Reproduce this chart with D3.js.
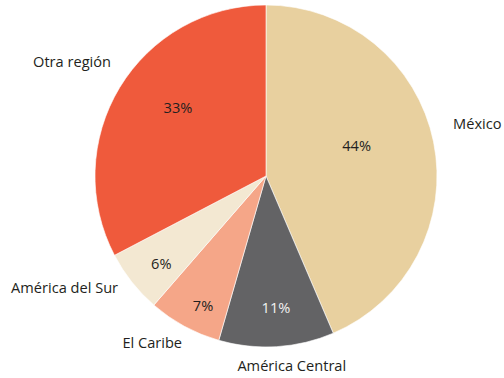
<!DOCTYPE html>
<html>
<head>
<meta charset="utf-8">
<script src="https://cdn.jsdelivr.net/npm/d3@7"></script>
<style>
  html, body { margin: 0; padding: 0; background: #fff; }
  svg { display: block; }
  text { font-family: "Open Sans", Lato, sans-serif; font-size: 14.6px; fill: #231f20; }
</style>
</head>
<body>
<svg id="chart" width="504" height="378"></svg>
<script>
// Share of respondents by region of origin (percent)
const regions = ["México", "América Central", "El Caribe", "América del Sur", "Otra región"];
const shares = [44, 11, 7, 6, 33];
const sliceColors = ["#e8d09f", "#636365", "#f5a688", "#f3e8d2", "#ef5a3c"];
const pctColors = ["#231f20", "#f2f2f2", "#231f20", "#231f20", "#231f20"];

// Label placement tweaks: [radius fraction, angle shift in degrees]
const pctPlacement = [[0.56, -7.3], [0.766, -0.8], [0.84, -2.5], [0.795, -1.3], [0.654, 6.9]];
const namePlacement = [[1.137, -4.2, "start"], [1.116, -4.2, "middle"], [1.088, -1.7, "end"], [1.082, 1.4, "end"], [1.129, 5.4, "end"]];

const width = 504, height = 378;
const cx = 266, cy = 176, R = 171;

const svg = d3.select("#chart");
const g = svg.append("g").attr("transform", `translate(${cx},${cy})`);

const pie = d3.pie().sort(null).value(d => d.value);
const arc = d3.arc().innerRadius(0).outerRadius(R);

const data = regions.map((name, i) => ({ name, value: shares[i], i }));
const arcs = pie(data);

g.selectAll("path.slice")
  .data(arcs)
  .join("path")
  .attr("class", "slice")
  .attr("d", arc)
  .attr("fill", d => sliceColors[d.data.i])
  .attr("stroke", "#ffffff")
  .attr("stroke-width", 0.6);

function polar(r, ang) {
  return [r * Math.sin(ang), -r * Math.cos(ang)];
}

g.selectAll("text.pct")
  .data(arcs)
  .join("text")
  .attr("class", "pct")
  .attr("text-anchor", "middle")
  .attr("dominant-baseline", "central")
  .attr("transform", d => {
    const [f, shift] = pctPlacement[d.data.i];
    const mid = (d.startAngle + d.endAngle) / 2 + shift * Math.PI / 180;
    const [x, y] = polar(f * R, mid);
    return `translate(${x},${y})`;
  })
  .style("fill", d => pctColors[d.data.i])
  .text(d => d.data.value + "%");

g.selectAll("text.name")
  .data(arcs)
  .join("text")
  .attr("class", "name")
  .attr("dominant-baseline", "central")
  .attr("text-anchor", d => namePlacement[d.data.i][2])
  .attr("transform", d => {
    const [f, shift] = namePlacement[d.data.i];
    const mid = (d.startAngle + d.endAngle) / 2 + shift * Math.PI / 180;
    const [x, y] = polar(f * R, mid);
    return `translate(${x},${y})`;
  })
  .text(d => d.data.name);
</script>
</body>
</html>
